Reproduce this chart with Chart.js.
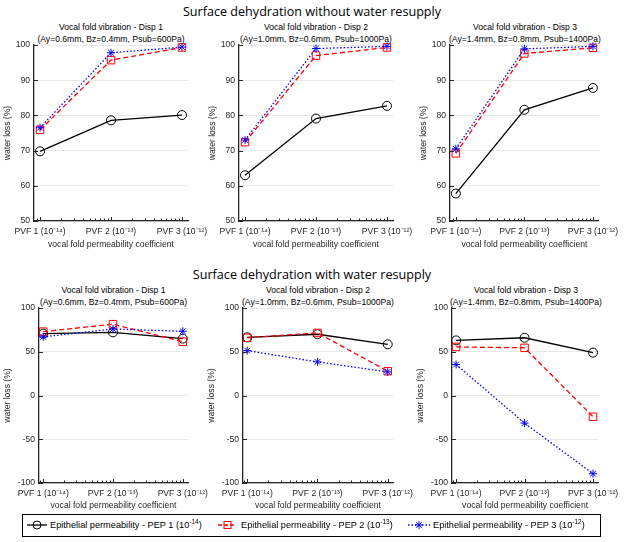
<!DOCTYPE html>
<html><head><meta charset="utf-8">
<script src="https://cdn.jsdelivr.net/npm/chart.js@4.4.0/dist/chart.umd.min.js"></script>
<style>
body{margin:0;background:#fff;width:624px;height:542px;position:relative;overflow:hidden;font-family:"Liberation Sans",Arial,sans-serif;}
.sup{position:absolute;left:0;width:624px;text-align:center;font-family:"Open Sans",sans-serif;font-size:12.6px;line-height:18px;color:#000;}
.st{position:absolute;width:240px;text-align:center;font-size:8.6px;color:#000;line-height:12px;white-space:nowrap;}
canvas{position:absolute;}
#legend{position:absolute;left:22px;top:514px;width:577px;height:21px;border:1px solid #000;font-size:9.2px;white-space:nowrap;color:#000;background:#fff;}
#legend .lt{position:absolute;top:4px;line-height:12px;}
#legend svg{position:absolute;top:5px;}
sup{font-size:6.5px;vertical-align:4px;line-height:0;}
</style></head><body>
<div class="sup" style="top:3px">Surface dehydration without water resupply</div>
<div class="sup" style="top:266px">Surface dehydration with water resupply</div>
<div id="titles"></div>
<div id="charts"></div>
<div id="legend">
 <svg style="left:4px" width="20" height="10"><line x1="0" y1="5" x2="20" y2="5" stroke="#000" stroke-width="1.3"/><circle cx="10" cy="5" r="4" fill="none" stroke="#000" stroke-width="1"/></svg>
 <span class="lt" style="left:27px">Epithelial permeability - PEP 1 (10<sup>-14</sup>)</span>
 <svg style="left:195px" width="16" height="10"><line x1="0" y1="5" x2="16" y2="5" stroke="#f00" stroke-width="1.3" stroke-dasharray="4,2"/><rect x="6" y="1.5" width="7" height="7" fill="none" stroke="#f00" stroke-width="1"/></svg>
 <span class="lt" style="left:218px">Epithelial permeability - PEP 2 (10<sup>-13</sup>)</span>
 <svg style="left:385px" width="22" height="10"><line x1="0" y1="5" x2="22" y2="5" stroke="#00f" stroke-width="1.3" stroke-dasharray="1.5,2"/><g stroke="#00f" stroke-width="1"><line x1="7" y1="5" x2="15" y2="5"/><line x1="11" y1="1" x2="11" y2="9"/><line x1="8.2" y1="2.2" x2="13.8" y2="7.8"/><line x1="8.2" y1="7.8" x2="13.8" y2="2.2"/></g></svg>
 <span class="lt" style="left:410px">Epithelial permeability - PEP 3 (10<sup>-12</sup>)</span>
</div>
<script>
// ---- data ----
const categories = ['PVF 1 (10\u207B\u00B9\u2074)', 'PVF 2 (10\u207B\u00B9\u00B3)', 'PVF 3 (10\u207B\u00B9\u00B2)'];
const seriesNames = ['Epithelial permeability - PEP 1 (10^-14)', 'Epithelial permeability - PEP 2 (10^-13)', 'Epithelial permeability - PEP 3 (10^-12)'];
const panelTitles = ['Vocal fold vibration - Disp 1', 'Vocal fold vibration - Disp 2', 'Vocal fold vibration - Disp 3'];
const panelParams = ['(Ay=0.6mm, Bz=0.4mm, Psub=600Pa)', '(Ay=1.0mm, Bz=0.6mm, Psub=1000Pa)', '(Ay=1.4mm, Bz=0.8mm, Psub=1400Pa)'];

// without water resupply (Disp 1, Disp 2, Disp 3)
const noResupplyPEP1 = [[69.8, 78.6, 80.1], [63.0, 79.1, 82.7], [57.8, 81.6, 87.8]];
const noResupplyPEP2 = [[75.9, 95.7, 99.3], [72.4, 97.0, 99.3], [69.2, 97.6, 99.2]];
const noResupplyPEP3 = [[76.5, 97.8, 99.4], [73.0, 99.0, 99.6], [70.5, 98.9, 99.6]];
// with water resupply
const resupplyPEP1 = [[70.7, 72.2, 65.0], [66.5, 70.0, 58.5], [63.0, 66.0, 49.0]];
const resupplyPEP2 = [[73.0, 81.5, 61.5], [66.0, 71.5, 27.8], [55.5, 54.5, -24.3]];
const resupplyPEP3 = [[67.0, 76.0, 73.4], [51.3, 38.4, 27.0], [35.4, -31.6, -89.4]];

const topYTicks = [50, 60, 70, 80, 90, 100];
const bottomYTicks = [-100, -50, 0, 50, 100];
const xTickValues = [1, 2, 3];

// ---- layout ----
const topGeo = [
  {L: 0, pl: 34, pr: 188}, {L: 205, pl: 239, pr: 393}, {L: 416, pl: 450, pr: 600}
].map(g => Object.assign(g, {T: 35, pt: 45, pb: 221, B: 251, xmin: 0.915, xmax: 3.085}));
const botGeo = [
  {L: 0, pl: 39, pr: 188}, {L: 204, pl: 243, pr: 393}, {L: 413, pl: 452, pr: 600}
].map(g => Object.assign(g, {T: 298, pt: 308, pb: 483, B: 512, xmin: 0.94, xmax: 3.075}));

const minorX = [];
for (let d = 0; d <= 3; d++) for (let k = 2; k <= 9; k++) minorX.push(d + Math.log10(k));

const inwardTicks = {
  id: 'inwardTicks',
  afterDraw(chart) {
    const {ctx, chartArea: a, scales: {x, y}} = chart;
    ctx.save();
    ctx.strokeStyle = '#262626';
    ctx.lineWidth = 1;
    ctx.beginPath();
    y.ticks.forEach(t => { const py = Math.round(y.getPixelForValue(t.value)) + 0.5; ctx.moveTo(a.left, py); ctx.lineTo(a.left + 4, py); });
    x.ticks.forEach(t => { const px = Math.round(x.getPixelForValue(t.value)) + 0.5; ctx.moveTo(px, a.bottom); ctx.lineTo(px, a.bottom - 4); });
    minorX.forEach(v => { if (v > x.min && v < x.max) { const px = Math.round(x.getPixelForValue(v)) + 0.5; ctx.moveTo(px, a.bottom); ctx.lineTo(px, a.bottom - 2.5); } });
    ctx.stroke();
    ctx.restore();
  }
};

const FONT = {family: '"Liberation Sans", Arial, sans-serif', size: 8.6};
const TXT = '#262626';

function makePanel(geo, idx, p1, p2, p3, yTicks) {
  const W = Math.min(624, geo.pr + 26) - geo.L;
  const H = geo.B - geo.T;
  const cv = document.createElement('canvas');
  cv.width = W; cv.height = H;
  cv.style.left = geo.L + 'px'; cv.style.top = geo.T + 'px';
  document.getElementById('charts').appendChild(cv);

  const t = document.createElement('div');
  t.className = 'st';
  t.style.left = ((geo.pl + geo.pr) / 2 - 120) + 'px';
  t.style.top = (geo.pt - 24) + 'px';
  t.innerHTML = panelTitles[idx] + '<br>' + panelParams[idx];
  document.getElementById('titles').appendChild(t);

  const pts = arr => arr.map((v, i) => ({x: xTickValues[i], y: v}));
  new Chart(cv, {
    type: 'line',
    data: {datasets: [
      {label: seriesNames[0], data: pts(p1), borderColor: '#000', borderWidth: 1.3, pointStyle: 'circle', pointRadius: 4.5,
       pointBorderColor: '#000', pointBackgroundColor: 'rgba(0,0,0,0)', pointBorderWidth: 1, order: 2, clip: false, tension: 0},
      {label: seriesNames[1], data: pts(p2), borderColor: '#ff0000', borderWidth: 1.3, borderDash: [5, 3], pointStyle: 'rect', pointRadius: 5.3,
       pointBorderColor: '#ff0000', pointBackgroundColor: 'rgba(0,0,0,0)', pointBorderWidth: 1, order: 1, clip: false, tension: 0},
      {label: seriesNames[2], data: pts(p3), borderColor: '#0000ff', borderWidth: 1.3, borderDash: [1.5, 2], pointStyle: 'star', pointRadius: 4,
       pointBorderColor: '#0000ff', pointBackgroundColor: '#0000ff', pointBorderWidth: 1, order: 0, clip: false, tension: 0}
    ]},
    options: {
      responsive: false, animation: false,
      layout: {padding: {left: 0, top: geo.pt - geo.T, right: geo.L + W - geo.pr, bottom: 0}},
      plugins: {legend: {display: false}, tooltip: {enabled: false}},
      scales: {
        x: {type: 'linear', min: geo.xmin, max: geo.xmax,
            afterBuildTicks: s => { s.ticks = xTickValues.map(v => ({value: v})); },
            afterFit: s => { s.height = geo.B - geo.pb; },
            grid: {display: true, color: 'rgba(0,0,0,0)', drawTicks: false},
            border: {display: true, color: '#262626', width: 1.3},
            ticks: {callback: v => categories[xTickValues.indexOf(v)], font: FONT, color: TXT, padding: 5, maxRotation: 0, autoSkip: false},
            title: {display: true, text: 'vocal fold permeability coefficient', font: FONT, color: TXT, padding: {top: 0, bottom: 1}}},
        y: {type: 'linear', min: yTicks[0], max: yTicks[yTicks.length - 1],
            afterBuildTicks: s => { s.ticks = yTicks.map(v => ({value: v})); },
            afterFit: s => { s.width = geo.pl - geo.L; },
            grid: {display: true, color: 'rgba(0,0,0,0.09)', drawTicks: false},
            border: {display: true, color: '#262626', width: 1.3},
            ticks: {font: FONT, color: TXT, padding: 4},
            title: {display: true, text: 'water loss (%)', font: FONT, color: TXT, padding: {top: 2, bottom: 0}}}
      }
    },
    plugins: [inwardTicks]
  });
}

for (let i = 0; i < 3; i++) makePanel(topGeo[i], i, noResupplyPEP1[i], noResupplyPEP2[i], noResupplyPEP3[i], topYTicks);
for (let i = 0; i < 3; i++) makePanel(botGeo[i], i, resupplyPEP1[i], resupplyPEP2[i], resupplyPEP3[i], bottomYTicks);
</script>
</body></html>
